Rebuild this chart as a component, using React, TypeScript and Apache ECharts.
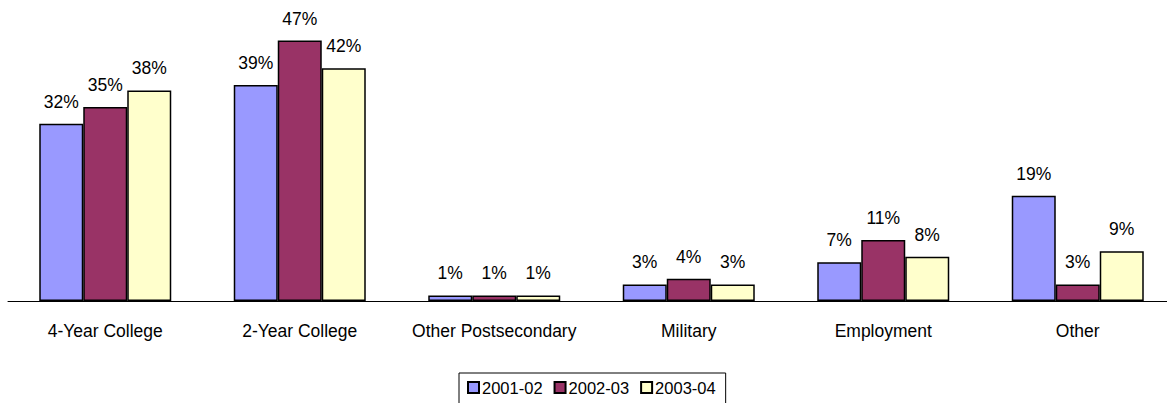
import React, { useEffect, useRef } from "react";
import * as echarts from "echarts";

const categories = ["4-Year College", "2-Year College", "Other Postsecondary", "Military", "Employment", "Other"];
const seriesNames = ["2001-02", "2002-03", "2003-04"];
const values2001 = [32, 39, 1, 3, 7, 19];
const values2002 = [35, 47, 1, 4, 11, 3];
const values2003 = [38, 42, 1, 3, 8, 9];
const colors = ["#9999FF", "#993366", "#FFFFCC"];

export default function App() {
  const ref = useRef<HTMLDivElement>(null);
  useEffect(() => {
    const chart = echarts.init(ref.current!, undefined, { renderer: "svg" });
    const font = "'Liberation Sans', Arial, sans-serif";
    const data = [values2001, values2002, values2003];
    chart.setOption({
      animation: false,
      textStyle: { fontFamily: font },
      grid: { left: 8, right: 0, top: 24, bottom: 102 },
      legend: {
        data: seriesNames,
        left: 459,
        top: 373,
        icon: "rect",
        itemWidth: 11,
        itemHeight: 11,
        itemGap: 11,
        borderColor: "#000",
        borderWidth: 1,
        padding: [6, 10, 8, 8],
        textStyle: { fontSize: 16.5, color: "#000", fontFamily: font, padding: [0, 0, 0, -2] },
      },
      xAxis: {
        type: "category",
        data: categories,
        axisLine: { lineStyle: { color: "#000", width: 1 } },
        axisTick: { length: 7, lineStyle: { color: "#000" } },
        axisLabel: { fontSize: 17.5, color: "#000", margin: 21, fontFamily: font, interval: 0 },
      },
      yAxis: { type: "value", min: 0, max: 50, show: false },
      series: seriesNames.map((name, i) => ({
        name,
        type: "bar",
        data: data[i],
        barWidth: 44,
        barGap: "0%",
        itemStyle: { color: colors[i], borderColor: "#000", borderWidth: 1.5 },
        label: {
          show: true,
          position: "top",
          distance: 13,
          formatter: "{c}%",
          fontSize: 17.5,
          color: "#000",
          fontFamily: font,
        },
      })),
    });
    return () => chart.dispose();
  }, []);
  return (
    <div style={{ width: 1167, height: 403, position: "absolute", left: 0, top: 0, overflow: "hidden" }}>
      <div ref={ref} style={{ width: 1175, height: 403 }} />
    </div>
  );
}
